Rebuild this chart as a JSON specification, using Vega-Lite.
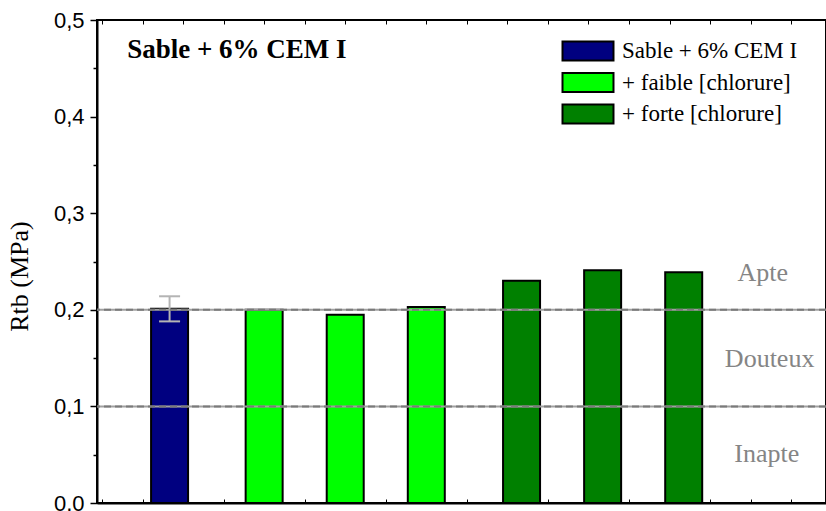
{
  "$schema": "https://vega.github.io/schema/vega-lite/v6.json",
  "autosize": {"type": "none"},
  "padding": {"left": 97, "top": 20, "right": 0, "bottom": 8},
  "width": 729,
  "height": 483,
  "background": "white",
  "datasets": {
    "bars": [
      {"pos": 1.667, "grp": "Sable + 6% CEM I", "val": 0.201, "lo": 0.188, "hi": 0.214},
      {"pos": 4.0, "grp": "+ faible [chlorure]", "val": 0.200},
      {"pos": 6.0, "grp": "+ faible [chlorure]", "val": 0.195},
      {"pos": 8.0, "grp": "+ faible [chlorure]", "val": 0.203},
      {"pos": 10.35, "grp": "+ forte [chlorure]", "val": 0.230},
      {"pos": 12.35, "grp": "+ forte [chlorure]", "val": 0.241},
      {"pos": 14.35, "grp": "+ forte [chlorure]", "val": 0.239}
    ],
    "zones": [
      {"label": "Apte", "x": 16.3, "y": 0.230},
      {"label": "Douteux", "x": 16.47, "y": 0.141},
      {"label": "Inapte", "x": 16.4, "y": 0.0425}
    ],
    "title": [
      {"label": "Sable + 6% CEM I", "x": 0.62, "y": 0.4603}
    ],
    "limits": [
      {"lim": 0.2},
      {"lim": 0.1}
    ]
  },
  "layer": [
    {
      "data": {"name": "bars"},
      "mark": {"type": "bar", "size": 37, "stroke": "black", "strokeWidth": 2, "opacity": 1},
      "encoding": {
        "x": {
          "field": "pos", "type": "quantitative",
          "scale": {"domain": [0, 17.737], "nice": false, "zero": false},
          "axis": {"orient": "bottom", "title": null, "labels": false, "values": [0,1,2,3,4,5,6,7,8,9,10,11,12,13,14,15,16,17], "tickSize": -4, "tickColor": "black", "tickWidth": 1, "domainColor": "black", "domainWidth": 2, "grid": false}
        },
        "y": {
          "field": "val", "type": "quantitative",
          "scale": {"domain": [0, 0.5], "nice": false, "zero": true},
          "axis": {
            "orient": "left",
            "title": "Rtb (MPa)",
            "titleFont": "Liberation Serif", "titleFontSize": 26, "titleFontWeight": "normal", "titleColor": "black",
            "titleAngle": -90, "titleX": -70, "titleY": 256, "titleAlign": "center", "titleBaseline": "alphabetic",
            "values": [0, 0.05, 0.1, 0.15, 0.2, 0.25, 0.3, 0.35, 0.4, 0.45, 0.5],
            "labelExpr": "round(datum.value*100) % 10 == 0 ? replace(format(datum.value, '.1f'), '.', ',') : ''",
            "labelFont": "Liberation Sans", "labelFontSize": 22, "labelColor": "black", "labelPadding": 6,
            "tickSize": 7,
            "tickDash": {"condition": {"test": "round(datum.value*100) % 10 == 0", "value": [20, 0]}, "value": [4, 20]},
            "tickColor": "black", "tickWidth": 1.5,
            "domainColor": "black", "domainWidth": 2, "grid": false
          }
        },
        "fill": {
          "field": "grp", "type": "nominal",
          "scale": {"domain": ["Sable + 6% CEM I", "+ faible [chlorure]", "+ forte [chlorure]"], "range": ["#000080", "#00ff00", "#008000"]},
          "legend": {
            "title": null, "orient": "none", "legendX": 477, "legendY": 17, "padding": 0,
            "symbolType": "M-2,-0.75H2V0.75H-2Z", "symbolSize": 650,
            "symbolStrokeColor": "black", "symbolStrokeWidth": 2, "symbolOpacity": 1,
            "labelFont": "Liberation Serif", "labelFontSize": 23, "labelColor": "black", "labelOffset": 20, "labelLimit": 0,
            "rowPadding": 3.5
          }
        }
      }
    },
    {
      "data": {"name": "bars"},
      "transform": [{"filter": "isValid(datum.lo)"}],
      "mark": {"type": "rule", "color": "#b4b4b4", "strokeWidth": 2},
      "encoding": {
        "x": {"field": "pos", "type": "quantitative", "axis": null},
        "y": {"field": "lo", "type": "quantitative"},
        "y2": {"field": "hi"}
      }
    },
    {
      "data": {"name": "bars"},
      "transform": [{"filter": "isValid(datum.lo)"}],
      "mark": {"type": "tick", "orient": "horizontal", "color": "#b4b4b4", "size": 21, "thickness": 2, "opacity": 1},
      "encoding": {
        "x": {"field": "pos", "type": "quantitative", "axis": null},
        "y": {"field": "lo", "type": "quantitative"}
      }
    },
    {
      "data": {"name": "bars"},
      "transform": [{"filter": "isValid(datum.hi)"}],
      "mark": {"type": "tick", "orient": "horizontal", "color": "#b4b4b4", "size": 21, "thickness": 2, "opacity": 1},
      "encoding": {
        "x": {"field": "pos", "type": "quantitative", "axis": null},
        "y": {"field": "hi", "type": "quantitative"}
      }
    },
    {
      "data": {"name": "limits"},
      "mark": {"type": "rule", "color": "#a0a0a0", "strokeWidth": 2},
      "encoding": {
        "y": {"field": "lim", "type": "quantitative"}
      }
    },
    {
      "data": {"name": "limits"},
      "mark": {"type": "rule", "color": "#7a7a7a", "strokeWidth": 2, "strokeDash": [7, 4]},
      "encoding": {
        "y": {"field": "lim", "type": "quantitative"}
      }
    },
    {
      "data": {"name": "zones"},
      "mark": {"type": "text", "font": "Liberation Serif", "fontSize": 26, "color": "#858585", "align": "center", "baseline": "alphabetic"},
      "encoding": {
        "x": {"field": "x", "type": "quantitative",
          "axis": {"orient": "top", "title": null, "labels": false, "values": [0,1,2,3,4,5,6,7,8,9,10,11,12,13,14,15,16,17], "tickSize": -4, "tickColor": "black", "tickWidth": 1, "domain": false, "grid": false}
        },
        "y": {"field": "y", "type": "quantitative"},
        "text": {"field": "label"}
      }
    },
    {
      "data": {"name": "title"},
      "mark": {"type": "text", "font": "Liberation Serif", "fontSize": 27, "fontWeight": "bold", "color": "black", "align": "left", "baseline": "alphabetic"},
      "encoding": {
        "x": {"field": "x", "type": "quantitative", "axis": null},
        "y": {"field": "y", "type": "quantitative"},
        "text": {"field": "label"}
      }
    }
  ],
  "resolve": {"axis": {"x": "independent"}},
  "config": {
    "view": {"stroke": "black", "strokeWidth": 2},
    "axis": {"grid": false},
    "axisY": {"titleFont": "Liberation Serif", "titleFontSize": 26, "titleFontWeight": "normal", "titleColor": "black"}
  }
}
